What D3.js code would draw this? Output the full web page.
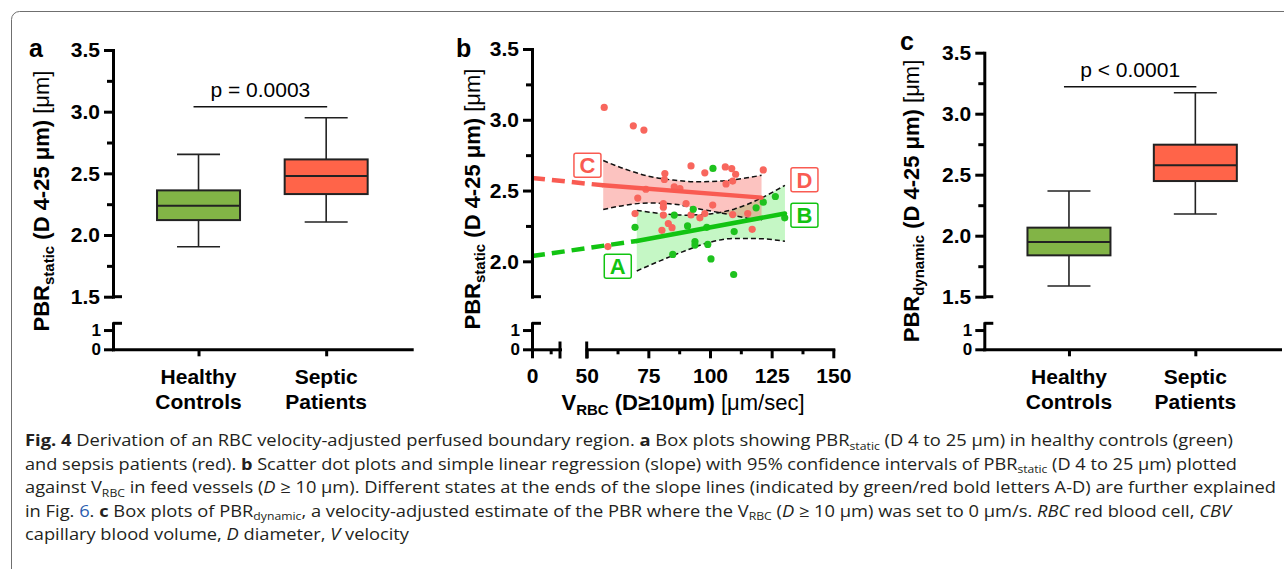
<!DOCTYPE html>
<html>
<head>
<meta charset="utf-8">
<script src="https://cdn.jsdelivr.net/npm/d3@7"></script>
<style>
  body { margin: 0; background: #fff; }
  svg { display: block; font-family: "Liberation Sans", Arial, sans-serif; }
</style>
</head>
<body>
<svg id="fig" width="1284" height="569"></svg>
<script>
// ---- data ----
const groups = ["Healthy Controls", "Septic Patients"];
const groupColors = ["#82b446", "#ff6449"];
// min, q1, median, q3, max
const staticStats = [[1.905, 2.121, 2.238, 2.362, 2.654], [2.105, 2.332, 2.478, 2.613, 2.951]];
const dynamicStats = [[1.588, 1.839, 1.948, 2.066, 2.366], [2.178, 2.448, 2.577, 2.746, 3.172]];
const pLabels = ["p = 0.0003", "p < 0.0001"];
const pLevels = [3.04, 3.22];
const yMajor = [1.5, 2.0, 2.5, 3.0, 3.5];
const yMinor = [1.75, 2.25, 2.75, 3.25];
const yLowTicks = [0, 1];

// panel b: [V_RBC, PBR_static]
const septicPoints = [
  [57.1, 3.087], [68.9, 2.957], [73.2, 2.927], [92.3, 2.674], [97.9, 2.625], [106.2, 2.667],
  [108.8, 2.655], [110.4, 2.615], [121.6, 2.646], [81.7, 2.620], [81.5, 2.578], [106.5, 2.547],
  [109.2, 2.567], [85.5, 2.526], [87.8, 2.514], [74.0, 2.509], [70.7, 2.447], [81.1, 2.408],
  [81.1, 2.382], [90.3, 2.408], [101.1, 2.397], [69.6, 2.337], [81.1, 2.327], [92.3, 2.328],
  [97.9, 2.337], [95.9, 2.307], [109.2, 2.330], [115.3, 2.337], [83.1, 2.267], [84.6, 2.238],
  [80.5, 2.219], [117.1, 2.226], [58.6, 2.104]
];
const healthyPoints = [
  [101.2, 2.656], [69.6, 2.240], [85.5, 2.327], [93.2, 2.368], [90.9, 2.250], [98.7, 2.240],
  [93.9, 2.140], [93.9, 2.115], [99.1, 2.119], [84.9, 2.049], [100.4, 2.017], [109.8, 2.210],
  [109.6, 1.907], [118.7, 2.378], [121.6, 2.418], [126.5, 2.458], [130.3, 2.307]
];
// extrapolated start (x = 0), start and end of the fitted range
const septicFit = [[0, 2.589], [56.7, 2.537], [120.9, 2.450]];
const healthyFit = [[0, 2.037], [70.3, 2.144], [130.4, 2.338]];
const septicBandX = [56.7, 65, 75, 85, 95, 105, 115, 120.9];
const septicBandHi = [2.712, 2.655, 2.602, 2.574, 2.562, 2.568, 2.590, 2.608];
const septicBandLo = [2.366, 2.395, 2.412, 2.405, 2.372, 2.340, 2.305, 2.290];
const healthyBandX = [70.3, 80, 90, 100, 110, 120, 130.4];
const healthyBandHi = [2.360, 2.338, 2.326, 2.335, 2.370, 2.440, 2.537];
const healthyBandLo = [1.932, 2.005, 2.075, 2.135, 2.162, 2.160, 2.141];
const xMajorB = [50, 75, 100, 125, 150];
const xMinorB = [62.5, 87.5, 112.5, 137.5];
const endLetters = ["A", "B", "C", "D"];
const letterPos = [[62.6, 1.966], [138.3, 2.325], [50.3, 2.678], [138.3, 2.576]];
const letterGroup = [0, 0, 1, 1];

const captionLines = [
  [["Fig. 4", "b"], ["  Derivation of an RBC velocity-adjusted perfused boundary region. ", ""], ["a", "b"],
   [" Box plots showing PBR", ""], ["static", "sub"], [" (D 4 to 25 μm) in healthy controls (green)", ""]],
  [["and sepsis patients (red). ", ""], ["b", "b"],
   [" Scatter dot plots and simple linear regression (slope) with 95% confidence intervals of PBR", ""],
   ["static", "sub"], [" (D 4 to 25 μm) plotted", ""]],
  [["against V", ""], ["RBC", "sub"], [" in feed vessels (", ""], ["D", "i"],
   [" ≥ 10 μm). Different states at the ends of the slope lines (indicated by green/red bold letters A-D) are further explained", ""]],
  [["in Fig. ", ""], ["6", "link"], [". ", ""], ["c", "b"], [" Box plots of PBR", ""], ["dynamic", "sub"],
   [", a velocity-adjusted estimate of the PBR where the V", ""], ["RBC", "sub"], [" (", ""], ["D", "i"],
   [" ≥ 10 μm) was set to 0 μm/s. ", ""], ["RBC", "i"], [" red blood cell, ", ""], ["CBV", "i"]],
  [["capillary blood volume, ", ""], ["D", "i"], [" diameter, ", ""], ["V", "i"], [" velocity", ""]]
];
const captionWidths = [1208, 1212, 1251, 1206, 384];

// ---- drawing ----
const svg = d3.select("#fig");
const FONT = "'Liberation Sans', Arial, sans-serif";
const redLine = "#f95b52", greenLine = "#12c412";
const redDot = "#f8665d", greenDot = "#1ec21e";

// figure frame
svg.append("rect")
    .attr("x", 11.5).attr("y", 11.5)
    .attr("width", 1320).attr("height", 620)
    .attr("rx", 8)
    .attr("fill", "none").attr("stroke", "#6f6f6f").attr("stroke-width", 1);

function styleAxis(g, size) {
    g.attr("font-family", FONT).attr("font-size", size || 21);
    g.select(".domain").attr("stroke", "#000").attr("stroke-width", 3).attr("stroke-linecap", "square");
    g.selectAll(".tick line").attr("stroke", "#000").attr("stroke-width", 3);
    g.selectAll(".tick text").attr("fill", "#000").attr("font-weight", "bold");
}

function yTitle(x, y, sub) {
    const t = svg.append("text")
        .attr("transform", `translate(${x},${y}) rotate(-90)`)
        .attr("text-anchor", "middle")
        .attr("font-size", 22).attr("font-weight", "bold").attr("fill", "#000");
    t.append("tspan").text("PBR");
    t.append("tspan").attr("font-size", 15).attr("dy", 5).text(sub);
    t.append("tspan").attr("dy", -5).text(" (D 4-25 μm) ");
    t.append("tspan").attr("font-weight", "normal").text("[μm]");
}

function panelLetter(x, y, s) {
    svg.append("text").attr("x", x).attr("y", y)
        .attr("font-size", 25).attr("font-weight", "bold").text(s);
}

// broken y axis shared by all panels: upper segment + 0..1 segment
function brokenY(x0, yHi, major, minor) {
    const gHi = svg.append("g").attr("transform", `translate(${x0},0)`)
        .call(d3.axisLeft(yHi).tickValues(major).tickFormat(d3.format(".1f"))
            .tickSizeInner(9).tickSizeOuter(0).tickPadding(4));
    styleAxis(gHi);
    const gMin = svg.append("g").attr("transform", `translate(${x0},0)`)
        .call(d3.axisLeft(yHi).tickValues(minor).tickFormat("").tickSize(6));
    styleAxis(gMin);
    gMin.select(".domain").remove();
    const lo = yHi.domain()[0];
    svg.append("line").attr("x1", x0).attr("x2", x0 + 9)
        .attr("y1", yHi(lo)).attr("y2", yHi(lo))
        .attr("stroke", "#000").attr("stroke-width", 3);

    const yLo = d3.scaleLinear([0, 1.35], [349.3, 323.3]);
    const gLo = svg.append("g").attr("transform", `translate(${x0},0)`)
        .call(d3.axisLeft(yLo).tickValues(yLowTicks).tickFormat(d3.format("d"))
            .tickSizeInner(9).tickSizeOuter(0).tickPadding(3));
    styleAxis(gLo, 17);
    svg.append("line").attr("x1", x0).attr("x2", x0 + 9)
        .attr("y1", yLo(1.35)).attr("y2", yLo(1.35))
        .attr("stroke", "#000").attr("stroke-width", 3);
}

function boxPanel(x0, xEnd, yTop, stats, pIdx, letter, letterXY, titleX, sub) {
    const y = d3.scaleLinear([1.5, 3.5], [296.7, yTop]);
    const x = d3.scalePoint(groups, [x0, xEnd]).padding(0.67);
    const bw = 83, cw = 43;

    brokenY(x0, y, yMajor, yMinor);

    const gx = svg.append("g").attr("transform", "translate(0,349.3)")
        .call(d3.axisBottom(x).tickSizeInner(7).tickSizeOuter(0).tickFormat(""));
    styleAxis(gx);

    groups.forEach((g, i) => {
        const lines = g.split(" ");
        const t = svg.append("text").attr("text-anchor", "middle")
            .attr("font-size", 21).attr("font-weight", "bold");
        lines.forEach((w, j) => t.append("tspan").attr("x", x(g)).attr("y", 384 + j * 25).text(w));
    });

    const boxes = svg.append("g").selectAll("g").data(stats).join("g")
        .attr("transform", (d, i) => `translate(${x(groups[i])},0)`);
    boxes.append("line").attr("y1", d => y(d[3])).attr("y2", d => y(d[4]))
        .attr("stroke", "#222").attr("stroke-width", 1.6);
    boxes.append("line").attr("y1", d => y(d[1])).attr("y2", d => y(d[0]))
        .attr("stroke", "#222").attr("stroke-width", 1.6);
    boxes.append("line").attr("x1", -cw / 2).attr("x2", cw / 2)
        .attr("y1", d => y(d[4])).attr("y2", d => y(d[4]))
        .attr("stroke", "#222").attr("stroke-width", 1.6);
    boxes.append("line").attr("x1", -cw / 2).attr("x2", cw / 2)
        .attr("y1", d => y(d[0])).attr("y2", d => y(d[0]))
        .attr("stroke", "#222").attr("stroke-width", 1.6);
    boxes.append("rect").attr("x", -bw / 2).attr("width", bw)
        .attr("y", d => y(d[3])).attr("height", d => y(d[1]) - y(d[3]))
        .attr("fill", (d, i) => groupColors[i])
        .attr("stroke", "#222").attr("stroke-width", 2);
    boxes.append("line").attr("x1", -bw / 2).attr("x2", bw / 2)
        .attr("y1", d => y(d[2])).attr("y2", d => y(d[2]))
        .attr("stroke", "#222").attr("stroke-width", 2);

    // significance bar
    const py = y(pLevels[pIdx]);
    svg.append("line").attr("x1", x(groups[0]) - 5).attr("x2", x(groups[1]) + 1)
        .attr("y1", py).attr("y2", py).attr("stroke", "#111").attr("stroke-width", 1.5);
    svg.append("text").attr("x", (x(groups[0]) + x(groups[1])) / 2 - 2).attr("y", py - 10)
        .attr("text-anchor", "middle").attr("font-size", 21).text(pLabels[pIdx]);

    panelLetter(letterXY[0], letterXY[1], letter);
    yTitle(titleX, 201, sub);
}

boxPanel(113, 411.7, 50, staticStats, 0, "a", [29, 57], 49, "static");
boxPanel(984.3, 1280, 52.7, dynamicStats, 1, "c", [900, 50], 919, "dynamic");

// ---- panel b ----
(function () {
    const x0 = 532;
    const yHi = d3.scaleLinear([1.75, 3.5], [296.7, 49]);
    const xSeg1 = d3.scaleLinear([0, 15], [x0, 560]);
    const xSeg2 = d3.scaleLinear([50, 150], [586.7, 833.3]);
    const x = d3.scaleLinear()
        .domain([0, 15, 50, 150])
        .range([x0, 560, 586.7, 833.3]);

    // bands
    const bands = [
        [healthyBandX, healthyBandHi, healthyBandLo, "rgba(40,225,40,0.27)"],
        [septicBandX, septicBandHi, septicBandLo, "rgba(248,90,80,0.36)"]
    ];
    bands.forEach(([bx, hi, lo, fill]) => {
        const pts = bx.map((v, i) => [v, hi[i], lo[i]]);
        svg.append("path").datum(pts)
            .attr("d", d3.area().x(d => x(d[0])).y0(d => yHi(d[2])).y1(d => yHi(d[1]))
                .curve(d3.curveMonotoneX))
            .attr("fill", fill);
    });
    bands.forEach(([bx, hi, lo]) => {
        [hi, lo].forEach(arr => {
            svg.append("path").datum(bx.map((v, i) => [v, arr[i]]))
                .attr("d", d3.line().x(d => x(d[0])).y(d => yHi(d[1])).curve(d3.curveMonotoneX))
                .attr("fill", "none").attr("stroke", "#111").attr("stroke-width", 1.5)
                .attr("stroke-dasharray", "5,3");
        });
    });

    // points
    svg.append("g").selectAll("circle").data(septicPoints).join("circle")
        .attr("cx", d => x(d[0])).attr("cy", d => yHi(d[1])).attr("r", 3.6).attr("fill", redDot);
    svg.append("g").selectAll("circle").data(healthyPoints).join("circle")
        .attr("cx", d => x(d[0])).attr("cy", d => yHi(d[1])).attr("r", 3.6).attr("fill", greenDot);

    // regression lines: dashed extrapolation + solid fitted part
    [[healthyFit, greenLine], [septicFit, redLine]].forEach(([fit, col]) => {
        const line = d3.line().x(d => x(d[0])).y(d => yHi(d[1]));
        svg.append("path").datum(fit.slice(0, 2)).attr("d", line)
            .attr("stroke", col).attr("stroke-width", 4.5).attr("fill", "none")
            .attr("stroke-dasharray", "13,7");
        svg.append("path").datum(fit.slice(1)).attr("d", line)
            .attr("stroke", col).attr("stroke-width", 4.5).attr("fill", "none")
            .attr("stroke-linecap", "round");
    });

    // A-D end labels
    endLetters.forEach((s, i) => {
        const col = letterGroup[i] ? redLine : greenLine;
        const cx = x(letterPos[i][0]), cy = yHi(letterPos[i][1]);
        svg.append("rect").attr("x", cx - 13.5).attr("y", cy - 12).attr("width", 27).attr("height", 24)
            .attr("rx", 2).attr("fill", "#fff").attr("stroke", col).attr("stroke-width", 1.5);
        svg.append("text").attr("x", cx).attr("y", cy).attr("dy", "0.36em")
            .attr("text-anchor", "middle").attr("font-size", 22).attr("font-weight", "bold")
            .attr("fill", col).text(s);
    });

    // axes
    brokenY(x0, yHi, [2.0, 2.5, 3.0, 3.5], [2.25, 2.75, 3.25]);

    const g1 = svg.append("g").attr("transform", "translate(0,349.3)")
        .call(d3.axisBottom(xSeg1).tickValues([0]).tickFormat(d3.format("d"))
            .tickSizeInner(9).tickSizeOuter(0).tickPadding(10));
    styleAxis(g1);
    const g1m = svg.append("g").attr("transform", "translate(0,349.3)")
        .call(d3.axisBottom(xSeg1).tickValues([10]).tickFormat("").tickSize(5));
    styleAxis(g1m);
    g1m.select(".domain").remove();

    const g2 = svg.append("g").attr("transform", "translate(0,349.3)")
        .call(d3.axisBottom(xSeg2).tickValues(xMajorB).tickFormat(d3.format("d"))
            .tickSizeInner(9).tickSizeOuter(0).tickPadding(10));
    styleAxis(g2);
    const g2m = svg.append("g").attr("transform", "translate(0,349.3)")
        .call(d3.axisBottom(xSeg2).tickValues(xMinorB).tickFormat("").tickSize(5));
    styleAxis(g2m);
    g2m.select(".domain").remove();

    [xSeg1(15), xSeg2(50)].forEach(px => {
        svg.append("line").attr("x1", px).attr("x2", px).attr("y1", 341.5).attr("y2", 358.5)
            .attr("stroke", "#000").attr("stroke-width", 3);
    });

    const xt = svg.append("text").attr("x", 683).attr("y", 410).attr("text-anchor", "middle")
        .attr("font-size", 22).attr("font-weight", "bold");
    xt.append("tspan").text("V");
    xt.append("tspan").attr("font-size", 15).attr("dy", 5).text("RBC");
    xt.append("tspan").attr("dy", -5).text(" (D≥10μm) ");
    xt.append("tspan").attr("font-weight", "normal").text("[μm/sec]");

    panelLetter(456, 57, "b");
    yTitle(480, 199, "static");
})();

// ---- caption ----
const cap = svg.append("g").attr("font-family", "'Open Sans', 'Noto Sans', sans-serif")
    .attr("font-size", 16.5).attr("fill", "#231f20");
captionLines.forEach((segs, li) => {
    const t = cap.append("text").attr("x", 25).attr("y", 446 + li * 23.5)
        .attr("textLength", captionWidths[li]).attr("lengthAdjust", "spacingAndGlyphs");
    let shifted = false;
    segs.forEach(([str, st]) => {
        const sp = t.append("tspan").text(str);
        if (st === "sub") { sp.attr("font-size", 11).attr("dy", 3.5); shifted = true; return; }
        if (shifted) { sp.attr("dy", -3.5); shifted = false; }
        if (st === "b") sp.attr("font-weight", "bold");
        if (st === "i") sp.attr("font-style", "italic");
        if (st === "link") sp.attr("fill", "#2a5db0");
    });
});
</script>
</body>
</html>
